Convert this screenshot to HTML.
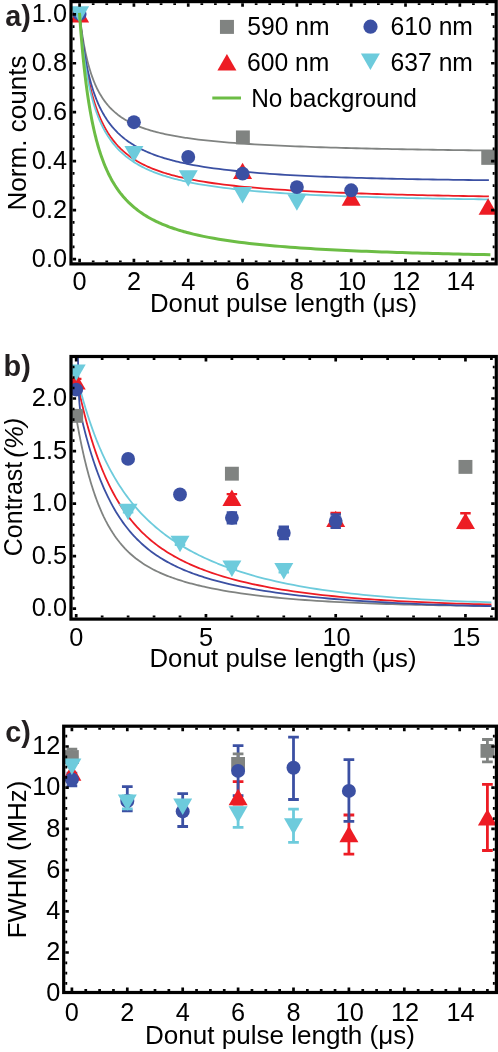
<!DOCTYPE html>
<html><head><meta charset="utf-8"><title>figure</title>
<style>html,body{margin:0;padding:0;background:#fff}svg{display:block;will-change:transform}text{font-family:"Liberation Sans",sans-serif}</style>
</head><body>
<svg width="498" height="1052" viewBox="0 0 498 1052" font-family="'Liberation Sans', sans-serif">
<rect width="498" height="1052" fill="#fff"/>
<defs>
<clipPath id="ca"><rect x="71" y="1.6" width="425.2" height="262.3"/></clipPath>
<clipPath id="cb"><rect x="71" y="356.5" width="425.3" height="262.6"/></clipPath>
<clipPath id="cc"><rect x="63.7" y="726.2" width="432.7" height="266.3"/></clipPath>
</defs>
<g clip-path="url(#ca)">
<path d="M79.6 14.3 L80.06 18.23 L80.52 21.96 L80.98 25.49 L81.44 28.84 L81.9 32.03 L82.36 35.07 L82.82 37.96 L83.28 40.72 L83.74 43.36 L84.2 45.88 L84.66 48.29 L85.12 50.6 L85.58 52.82 L86.04 54.94 L86.51 56.99 L86.97 58.95 L87.43 60.84 L87.89 62.65 L88.35 64.4 L88.81 66.09 L89.27 67.71 L89.73 69.28 L90.19 70.8 L90.65 72.26 L91.11 73.68 L91.57 75.05 L92.03 76.37 L92.49 77.66 L92.95 78.9 L93.41 80.11 L93.87 81.27 L94.33 82.41 L94.79 83.51 L95.25 84.58 L95.71 85.61 L96.17 86.62 L96.63 87.6 L97.09 88.56 L97.55 89.48 L98.01 90.39 L98.47 91.27 L98.93 92.12 L99.39 92.95 L99.85 93.77 L100.32 94.56 L100.78 95.33 L101.24 96.09 L101.7 96.82 L102.16 97.54 L102.62 98.24 L103.08 98.92 L103.54 99.59 L104 100.25 L104.46 100.88 L104.92 101.51 L105.38 102.12 L105.84 102.72 L106.3 103.3 L106.76 103.87 L108.14 105.51 L109.52 107.06 L110.9 108.51 L112.28 109.88 L113.67 111.18 L115.05 112.4 L116.43 113.56 L117.81 114.66 L119.19 115.7 L120.57 116.7 L121.95 117.64 L123.33 118.54 L124.71 119.4 L126.09 120.22 L127.48 121.01 L128.86 121.76 L130.24 122.48 L131.62 123.17 L133 123.84 L134.38 124.47 L135.76 125.09 L137.14 125.67 L138.52 126.24 L139.9 126.79 L141.29 127.31 L142.67 127.82 L144.05 128.31 L145.43 128.78 L146.81 129.24 L148.19 129.68 L149.57 130.11 L150.95 130.52 L152.33 130.92 L153.71 131.31 L155.1 131.69 L156.48 132.05 L157.86 132.41 L159.24 132.75 L160.62 133.09 L162 133.41 L163.38 133.72 L164.76 134.03 L166.14 134.33 L167.52 134.62 L168.91 134.9 L170.29 135.18 L171.67 135.44 L173.05 135.7 L174.43 135.96 L175.81 136.21 L177.19 136.45 L178.57 136.68 L179.95 136.91 L181.33 137.14 L182.72 137.36 L184.1 137.57 L185.48 137.78 L186.86 137.98 L188.24 138.18 L193.34 138.88 L198.43 139.53 L203.53 140.12 L208.62 140.68 L213.72 141.2 L218.82 141.68 L223.91 142.13 L229.01 142.55 L234.1 142.94 L239.2 143.32 L244.3 143.67 L249.39 144 L254.49 144.31 L259.58 144.61 L264.68 144.89 L269.78 145.16 L274.87 145.41 L279.97 145.66 L285.06 145.89 L290.16 146.11 L295.26 146.32 L300.35 146.52 L305.45 146.71 L310.54 146.89 L315.64 147.07 L320.73 147.24 L325.83 147.4 L330.93 147.56 L336.02 147.71 L341.12 147.85 L346.21 147.99 L351.31 148.12 L356.41 148.25 L361.5 148.38 L366.6 148.5 L371.69 148.61 L376.79 148.73 L381.89 148.84 L386.98 148.94 L392.08 149.04 L397.17 149.14 L402.27 149.24 L407.37 149.33 L412.46 149.42 L417.56 149.51 L422.65 149.59 L427.75 149.68 L432.85 149.76 L437.94 149.83 L443.04 149.91 L448.13 149.98 L453.23 150.05 L458.33 150.12 L463.42 150.19 L468.52 150.26 L473.61 150.32 L478.71 150.39 L483.81 150.45 L488.9 150.51 L496.51 150.59" stroke="#808381" stroke-width="1.8" fill="none" stroke-linejoin="round" stroke-linecap="butt"/>
<path d="M79.6 14.3 L80.06 19.2 L80.52 23.86 L80.98 28.3 L81.44 32.52 L81.9 36.55 L82.36 40.4 L82.82 44.07 L83.28 47.59 L83.74 50.96 L84.2 54.19 L84.66 57.29 L85.12 60.26 L85.58 63.12 L86.04 65.87 L86.51 68.52 L86.97 71.06 L87.43 73.52 L87.89 75.89 L88.35 78.17 L88.81 80.38 L89.27 82.51 L89.73 84.57 L90.19 86.56 L90.65 88.49 L91.11 90.36 L91.57 92.17 L92.03 93.92 L92.49 95.62 L92.95 97.27 L93.41 98.87 L93.87 100.42 L94.33 101.93 L94.79 103.4 L95.25 104.83 L95.71 106.22 L96.17 107.56 L96.63 108.88 L97.09 110.16 L97.55 111.4 L98.01 112.62 L98.47 113.8 L98.93 114.95 L99.39 116.08 L99.85 117.17 L100.32 118.24 L100.78 119.29 L101.24 120.31 L101.7 121.31 L102.16 122.28 L102.62 123.23 L103.08 124.16 L103.54 125.07 L104 125.96 L104.46 126.83 L104.92 127.68 L105.38 128.51 L105.84 129.33 L106.3 130.12 L106.76 130.9 L108.14 133.15 L109.52 135.27 L110.9 137.27 L112.28 139.15 L113.67 140.94 L115.05 142.63 L116.43 144.23 L117.81 145.76 L119.19 147.21 L120.57 148.59 L121.95 149.9 L123.33 151.16 L124.71 152.36 L126.09 153.51 L127.48 154.6 L128.86 155.66 L130.24 156.67 L131.62 157.64 L133 158.57 L134.38 159.46 L135.76 160.32 L137.14 161.15 L138.52 161.95 L139.9 162.72 L141.29 163.46 L142.67 164.18 L144.05 164.87 L145.43 165.54 L146.81 166.19 L148.19 166.81 L149.57 167.42 L150.95 168.01 L152.33 168.58 L153.71 169.13 L155.1 169.66 L156.48 170.18 L157.86 170.68 L159.24 171.17 L160.62 171.65 L162 172.11 L163.38 172.56 L164.76 172.99 L166.14 173.42 L167.52 173.83 L168.91 174.23 L170.29 174.63 L171.67 175.01 L173.05 175.38 L174.43 175.74 L175.81 176.1 L177.19 176.44 L178.57 176.78 L179.95 177.11 L181.33 177.43 L182.72 177.74 L184.1 178.05 L185.48 178.35 L186.86 178.64 L188.24 178.93 L193.34 179.93 L198.43 180.85 L203.53 181.71 L208.62 182.5 L213.72 183.24 L218.82 183.94 L223.91 184.58 L229.01 185.19 L234.1 185.76 L239.2 186.29 L244.3 186.79 L249.39 187.27 L254.49 187.72 L259.58 188.14 L264.68 188.55 L269.78 188.93 L274.87 189.29 L279.97 189.64 L285.06 189.97 L290.16 190.28 L295.26 190.58 L300.35 190.87 L305.45 191.14 L310.54 191.4 L315.64 191.65 L320.73 191.89 L325.83 192.12 L330.93 192.34 L336.02 192.55 L341.12 192.76 L346.21 192.95 L351.31 193.14 L356.41 193.32 L361.5 193.5 L366.6 193.67 L371.69 193.83 L376.79 193.99 L381.89 194.14 L386.98 194.29 L392.08 194.43 L397.17 194.56 L402.27 194.7 L407.37 194.82 L412.46 194.95 L417.56 195.07 L422.65 195.19 L427.75 195.3 L432.85 195.41 L437.94 195.52 L443.04 195.62 L448.13 195.72 L453.23 195.82 L458.33 195.91 L463.42 196 L468.52 196.09 L473.61 196.18 L478.71 196.26 L483.81 196.35 L488.9 196.43" stroke="#ed1c24" stroke-width="1.8" fill="none" stroke-linejoin="round" stroke-linecap="butt"/>
<path d="M79.6 14.3 L80.06 18.97 L80.52 23.37 L80.98 27.53 L81.44 31.47 L81.9 35.21 L82.36 38.76 L82.82 42.14 L83.28 45.36 L83.74 48.43 L84.2 51.36 L84.66 54.16 L85.12 56.85 L85.58 59.42 L86.04 61.88 L86.51 64.25 L86.97 66.53 L87.43 68.72 L87.89 70.83 L88.35 72.86 L88.81 74.82 L89.27 76.71 L89.73 78.53 L90.19 80.29 L90.65 82 L91.11 83.65 L91.57 85.25 L92.03 86.79 L92.49 88.29 L92.95 89.75 L93.41 91.16 L93.87 92.53 L94.33 93.86 L94.79 95.15 L95.25 96.41 L95.71 97.63 L96.17 98.82 L96.63 99.98 L97.09 101.1 L97.55 102.2 L98.01 103.27 L98.47 104.31 L98.93 105.33 L99.39 106.32 L99.85 107.29 L100.32 108.24 L100.78 109.16 L101.24 110.06 L101.7 110.95 L102.16 111.81 L102.62 112.65 L103.08 113.47 L103.54 114.28 L104 115.07 L104.46 115.84 L104.92 116.6 L105.38 117.34 L105.84 118.06 L106.3 118.77 L106.76 119.47 L108.14 121.47 L109.52 123.37 L110.9 125.16 L112.28 126.85 L113.67 128.46 L115.05 129.98 L116.43 131.43 L117.81 132.82 L119.19 134.13 L120.57 135.39 L121.95 136.59 L123.33 137.74 L124.71 138.85 L126.09 139.9 L127.48 140.92 L128.86 141.89 L130.24 142.83 L131.62 143.73 L133 144.59 L134.38 145.43 L135.76 146.23 L137.14 147.01 L138.52 147.76 L139.9 148.48 L141.29 149.18 L142.67 149.86 L144.05 150.51 L145.43 151.15 L146.81 151.76 L148.19 152.35 L149.57 152.93 L150.95 153.49 L152.33 154.03 L153.71 154.56 L155.1 155.07 L156.48 155.57 L157.86 156.05 L159.24 156.52 L160.62 156.98 L162 157.43 L163.38 157.86 L164.76 158.28 L166.14 158.69 L167.52 159.09 L168.91 159.48 L170.29 159.86 L171.67 160.23 L173.05 160.6 L174.43 160.95 L175.81 161.29 L177.19 161.63 L178.57 161.96 L179.95 162.28 L181.33 162.59 L182.72 162.9 L184.1 163.2 L185.48 163.49 L186.86 163.78 L188.24 164.06 L193.34 165.04 L198.43 165.95 L203.53 166.79 L208.62 167.57 L213.72 168.3 L218.82 168.97 L223.91 169.61 L229.01 170.2 L234.1 170.75 L239.2 171.27 L244.3 171.76 L249.39 172.22 L254.49 172.66 L259.58 173.07 L264.68 173.45 L269.78 173.82 L274.87 174.16 L279.97 174.49 L285.06 174.8 L290.16 175.09 L295.26 175.37 L300.35 175.63 L305.45 175.88 L310.54 176.12 L315.64 176.35 L320.73 176.56 L325.83 176.77 L330.93 176.97 L336.02 177.15 L341.12 177.33 L346.21 177.5 L351.31 177.66 L356.41 177.82 L361.5 177.97 L366.6 178.11 L371.69 178.24 L376.79 178.37 L381.89 178.5 L386.98 178.62 L392.08 178.73 L397.17 178.84 L402.27 178.95 L407.37 179.05 L412.46 179.14 L417.56 179.23 L422.65 179.32 L427.75 179.41 L432.85 179.49 L437.94 179.57 L443.04 179.64 L448.13 179.71 L453.23 179.78 L458.33 179.85 L463.42 179.91 L468.52 179.98 L473.61 180.03 L478.71 180.09 L483.81 180.15 L488.9 180.2" stroke="#3b50a3" stroke-width="1.8" fill="none" stroke-linejoin="round" stroke-linecap="butt"/>
<path d="M79.6 14.3 L80.06 19.8 L80.52 24.97 L80.98 29.85 L81.44 34.46 L81.9 38.82 L82.36 42.96 L82.82 46.88 L83.28 50.62 L83.74 54.17 L84.2 57.56 L84.66 60.8 L85.12 63.89 L85.58 66.85 L86.04 69.68 L86.51 72.4 L86.97 75 L87.43 77.5 L87.89 79.91 L88.35 82.23 L88.81 84.45 L89.27 86.6 L89.73 88.67 L90.19 90.67 L90.65 92.6 L91.11 94.47 L91.57 96.27 L92.03 98.02 L92.49 99.71 L92.95 101.34 L93.41 102.93 L93.87 104.47 L94.33 105.96 L94.79 107.41 L95.25 108.81 L95.71 110.18 L96.17 111.51 L96.63 112.8 L97.09 114.05 L97.55 115.28 L98.01 116.47 L98.47 117.63 L98.93 118.76 L99.39 119.86 L99.85 120.93 L100.32 121.98 L100.78 123 L101.24 124 L101.7 124.97 L102.16 125.92 L102.62 126.85 L103.08 127.76 L103.54 128.65 L104 129.51 L104.46 130.36 L104.92 131.19 L105.38 132 L105.84 132.8 L106.3 133.58 L106.76 134.34 L108.14 136.54 L109.52 138.6 L110.9 140.55 L112.28 142.4 L113.67 144.14 L115.05 145.79 L116.43 147.37 L117.81 148.86 L119.19 150.28 L120.57 151.64 L121.95 152.93 L123.33 154.17 L124.71 155.35 L126.09 156.48 L127.48 157.56 L128.86 158.61 L130.24 159.6 L131.62 160.57 L133 161.49 L134.38 162.38 L135.76 163.23 L137.14 164.06 L138.52 164.85 L139.9 165.62 L141.29 166.36 L142.67 167.08 L144.05 167.77 L145.43 168.45 L146.81 169.09 L148.19 169.72 L149.57 170.33 L150.95 170.92 L152.33 171.5 L153.71 172.05 L155.1 172.59 L156.48 173.11 L157.86 173.62 L159.24 174.12 L160.62 174.6 L162 175.07 L163.38 175.52 L164.76 175.97 L166.14 176.4 L167.52 176.82 L168.91 177.23 L170.29 177.63 L171.67 178.02 L173.05 178.4 L174.43 178.77 L175.81 179.13 L177.19 179.48 L178.57 179.83 L179.95 180.16 L181.33 180.49 L182.72 180.81 L184.1 181.13 L185.48 181.43 L186.86 181.73 L188.24 182.03 L193.34 183.05 L198.43 184.01 L203.53 184.89 L208.62 185.71 L213.72 186.47 L218.82 187.18 L223.91 187.85 L229.01 188.47 L234.1 189.06 L239.2 189.61 L244.3 190.12 L249.39 190.61 L254.49 191.07 L259.58 191.5 L264.68 191.91 L269.78 192.3 L274.87 192.67 L279.97 193.02 L285.06 193.35 L290.16 193.67 L295.26 193.97 L300.35 194.25 L305.45 194.52 L310.54 194.78 L315.64 195.03 L320.73 195.27 L325.83 195.49 L330.93 195.71 L336.02 195.91 L341.12 196.11 L346.21 196.3 L351.31 196.48 L356.41 196.65 L361.5 196.82 L366.6 196.97 L371.69 197.13 L376.79 197.27 L381.89 197.41 L386.98 197.55 L392.08 197.68 L397.17 197.8 L402.27 197.92 L407.37 198.04 L412.46 198.15 L417.56 198.26 L422.65 198.36 L427.75 198.46 L432.85 198.55 L437.94 198.65 L443.04 198.73 L448.13 198.82 L453.23 198.9 L458.33 198.98 L463.42 199.06 L468.52 199.13 L473.61 199.2 L478.71 199.27 L483.81 199.34 L488.9 199.4" stroke="#6dcbdc" stroke-width="1.8" fill="none" stroke-linejoin="round" stroke-linecap="butt"/>
<rect x="235.94" y="130.45" width="13.9" height="13.9" fill="#808381"/>
<rect x="481.27" y="150.95" width="13.9" height="13.9" fill="#808381"/>
<path d="M70.1 22.4 L89.1 22.4 L79.6 5.95 Z" fill="#ed1c24"/>
<path d="M233.06 179.1 L252.06 179.1 L242.56 162.65 Z" fill="#ed1c24"/>
<path d="M341.7 205.7 L360.7 205.7 L351.2 189.25 Z" fill="#ed1c24"/>
<path d="M478.59 214.8 L497.59 214.8 L488.09 198.35 Z" fill="#ed1c24"/>
<circle cx="79.6" cy="13.9" r="6.95" fill="#3b50a3"/>
<circle cx="133.92" cy="122.2" r="6.95" fill="#3b50a3"/>
<circle cx="188.24" cy="157" r="6.95" fill="#3b50a3"/>
<circle cx="242.56" cy="173.6" r="6.95" fill="#3b50a3"/>
<circle cx="296.88" cy="187.1" r="6.95" fill="#3b50a3"/>
<circle cx="351.2" cy="190.3" r="6.95" fill="#3b50a3"/>
<path d="M70.1 6.2 L89.1 6.2 L79.6 22.65 Z" fill="#6dcbdc"/>
<path d="M124.42 146 L143.42 146 L133.92 162.45 Z" fill="#6dcbdc"/>
<path d="M178.74 170.2 L197.74 170.2 L188.24 186.65 Z" fill="#6dcbdc"/>
<path d="M233.06 187.1 L252.06 187.1 L242.56 203.55 Z" fill="#6dcbdc"/>
<path d="M287.38 194.2 L306.38 194.2 L296.88 210.65 Z" fill="#6dcbdc"/>
<path d="M79.6 14.3 L80.06 20.87 L80.52 27.12 L80.98 33.06 L81.44 38.72 L81.9 44.11 L82.36 49.27 L82.82 54.19 L83.28 58.9 L83.74 63.42 L84.2 67.74 L84.66 71.89 L85.12 75.87 L85.58 79.69 L86.04 83.37 L86.51 86.9 L86.97 90.31 L87.43 93.59 L87.89 96.76 L88.35 99.81 L88.81 102.76 L89.27 105.61 L89.73 108.36 L90.19 111.02 L90.65 113.59 L91.11 116.08 L91.57 118.5 L92.03 120.84 L92.49 123.1 L92.95 125.3 L93.41 127.43 L93.87 129.51 L94.33 131.52 L94.79 133.47 L95.25 135.37 L95.71 137.22 L96.17 139.01 L96.63 140.76 L97.09 142.46 L97.55 144.12 L98.01 145.73 L98.47 147.31 L98.93 148.84 L99.39 150.33 L99.85 151.79 L100.32 153.21 L100.78 154.6 L101.24 155.95 L101.7 157.28 L102.16 158.57 L102.62 159.83 L103.08 161.06 L103.54 162.27 L104 163.45 L104.46 164.6 L104.92 165.73 L105.38 166.83 L105.84 167.91 L106.3 168.96 L106.76 170 L108.14 172.97 L109.52 175.77 L110.9 178.41 L112.28 180.9 L113.67 183.26 L115.05 185.49 L116.43 187.6 L117.81 189.61 L119.19 191.51 L120.57 193.33 L121.95 195.06 L123.33 196.71 L124.71 198.28 L126.09 199.79 L127.48 201.23 L128.86 202.61 L130.24 203.93 L131.62 205.2 L133 206.42 L134.38 207.59 L135.76 208.71 L137.14 209.8 L138.52 210.84 L139.9 211.84 L141.29 212.81 L142.67 213.74 L144.05 214.65 L145.43 215.52 L146.81 216.36 L148.19 217.17 L149.57 217.96 L150.95 218.72 L152.33 219.46 L153.71 220.17 L155.1 220.87 L156.48 221.54 L157.86 222.19 L159.24 222.82 L160.62 223.44 L162 224.04 L163.38 224.62 L164.76 225.18 L166.14 225.73 L167.52 226.26 L168.91 226.78 L170.29 227.29 L171.67 227.78 L173.05 228.26 L174.43 228.72 L175.81 229.18 L177.19 229.62 L178.57 230.06 L179.95 230.48 L181.33 230.89 L182.72 231.29 L184.1 231.69 L185.48 232.07 L186.86 232.45 L188.24 232.81 L193.34 234.09 L198.43 235.28 L203.53 236.37 L208.62 237.38 L213.72 238.33 L218.82 239.2 L223.91 240.02 L229.01 240.79 L234.1 241.51 L239.2 242.18 L244.3 242.82 L249.39 243.42 L254.49 243.98 L259.58 244.52 L264.68 245.02 L269.78 245.5 L274.87 245.95 L279.97 246.38 L285.06 246.79 L290.16 247.18 L295.26 247.56 L300.35 247.91 L305.45 248.25 L310.54 248.57 L315.64 248.88 L320.73 249.18 L325.83 249.46 L330.93 249.73 L336.02 249.99 L341.12 250.24 L346.21 250.48 L351.31 250.71 L356.41 250.94 L361.5 251.15 L366.6 251.35 L371.69 251.55 L376.79 251.74 L381.89 251.93 L386.98 252.11 L392.08 252.28 L397.17 252.44 L402.27 252.6 L407.37 252.76 L412.46 252.91 L417.56 253.05 L422.65 253.19 L427.75 253.33 L432.85 253.46 L437.94 253.59 L443.04 253.71 L448.13 253.83 L453.23 253.94 L458.33 254.06 L463.42 254.17 L468.52 254.27 L473.61 254.38 L478.71 254.48 L483.81 254.57 L488.9 254.67" stroke="#6cbd45" stroke-width="3" fill="none" stroke-linejoin="round" stroke-linecap="square"/>
</g>
<rect x="71" y="1.6" width="425.2" height="262.3" fill="none" stroke="#000" stroke-width="3.2"/>
<path d="M79.6 262.3 v-1.9 M79.6 3.2 v1.9 M93.18 262.3 v-1.9 M93.18 3.2 v1.9 M106.76 262.3 v-1.9 M106.76 3.2 v1.9 M120.34 262.3 v-1.9 M120.34 3.2 v1.9 M133.92 262.3 v-1.9 M133.92 3.2 v1.9 M147.5 262.3 v-1.9 M147.5 3.2 v1.9 M161.08 262.3 v-1.9 M161.08 3.2 v1.9 M174.66 262.3 v-1.9 M174.66 3.2 v1.9 M188.24 262.3 v-1.9 M188.24 3.2 v1.9 M201.82 262.3 v-1.9 M201.82 3.2 v1.9 M215.4 262.3 v-1.9 M215.4 3.2 v1.9 M228.98 262.3 v-1.9 M228.98 3.2 v1.9 M242.56 262.3 v-1.9 M242.56 3.2 v1.9 M256.14 262.3 v-1.9 M256.14 3.2 v1.9 M269.72 262.3 v-1.9 M269.72 3.2 v1.9 M283.3 262.3 v-1.9 M283.3 3.2 v1.9 M296.88 262.3 v-1.9 M296.88 3.2 v1.9 M310.46 262.3 v-1.9 M310.46 3.2 v1.9 M324.04 262.3 v-1.9 M324.04 3.2 v1.9 M337.62 262.3 v-1.9 M337.62 3.2 v1.9 M351.2 262.3 v-1.9 M351.2 3.2 v1.9 M364.78 262.3 v-1.9 M364.78 3.2 v1.9 M378.36 262.3 v-1.9 M378.36 3.2 v1.9 M391.94 262.3 v-1.9 M391.94 3.2 v1.9 M405.52 262.3 v-1.9 M405.52 3.2 v1.9 M419.1 262.3 v-1.9 M419.1 3.2 v1.9 M432.68 262.3 v-1.9 M432.68 3.2 v1.9 M446.26 262.3 v-1.9 M446.26 3.2 v1.9 M459.84 262.3 v-1.9 M459.84 3.2 v1.9 M473.42 262.3 v-1.9 M473.42 3.2 v1.9 M487 262.3 v-1.9 M487 3.2 v1.9 M79.6 262.3 v-3.5 M79.6 3.2 v3.5 M133.92 262.3 v-3.5 M133.92 3.2 v3.5 M188.24 262.3 v-3.5 M188.24 3.2 v3.5 M242.56 262.3 v-3.5 M242.56 3.2 v3.5 M296.88 262.3 v-3.5 M296.88 3.2 v3.5 M351.2 262.3 v-3.5 M351.2 3.2 v3.5 M405.52 262.3 v-3.5 M405.52 3.2 v3.5 M459.84 262.3 v-3.5 M459.84 3.2 v3.5 M72.6 259.1 h1.9 M494.6 259.1 h-1.9 M72.6 246.86 h1.9 M494.6 246.86 h-1.9 M72.6 234.62 h1.9 M494.6 234.62 h-1.9 M72.6 222.38 h1.9 M494.6 222.38 h-1.9 M72.6 210.14 h1.9 M494.6 210.14 h-1.9 M72.6 197.9 h1.9 M494.6 197.9 h-1.9 M72.6 185.66 h1.9 M494.6 185.66 h-1.9 M72.6 173.42 h1.9 M494.6 173.42 h-1.9 M72.6 161.18 h1.9 M494.6 161.18 h-1.9 M72.6 148.94 h1.9 M494.6 148.94 h-1.9 M72.6 136.7 h1.9 M494.6 136.7 h-1.9 M72.6 124.46 h1.9 M494.6 124.46 h-1.9 M72.6 112.22 h1.9 M494.6 112.22 h-1.9 M72.6 99.98 h1.9 M494.6 99.98 h-1.9 M72.6 87.74 h1.9 M494.6 87.74 h-1.9 M72.6 75.5 h1.9 M494.6 75.5 h-1.9 M72.6 63.26 h1.9 M494.6 63.26 h-1.9 M72.6 51.02 h1.9 M494.6 51.02 h-1.9 M72.6 38.78 h1.9 M494.6 38.78 h-1.9 M72.6 26.54 h1.9 M494.6 26.54 h-1.9 M72.6 14.3 h1.9 M494.6 14.3 h-1.9 M72.6 259.1 h3.5 M494.6 259.1 h-3.5 M72.6 210.14 h3.5 M494.6 210.14 h-3.5 M72.6 161.18 h3.5 M494.6 161.18 h-3.5 M72.6 112.22 h3.5 M494.6 112.22 h-3.5 M72.6 63.26 h3.5 M494.6 63.26 h-3.5 M72.6 14.3 h3.5 M494.6 14.3 h-3.5" stroke="#000" stroke-width="2.7" fill="none"/>
<text transform="translate(67 267) scale(0.97 1)" text-anchor="end" font-size="26.1" font-weight="normal" fill="#000">0.0</text>
<text transform="translate(67 218.04) scale(0.97 1)" text-anchor="end" font-size="26.1" font-weight="normal" fill="#000">0.2</text>
<text transform="translate(67 169.08) scale(0.97 1)" text-anchor="end" font-size="26.1" font-weight="normal" fill="#000">0.4</text>
<text transform="translate(67 120.12) scale(0.97 1)" text-anchor="end" font-size="26.1" font-weight="normal" fill="#000">0.6</text>
<text transform="translate(67 71.16) scale(0.97 1)" text-anchor="end" font-size="26.1" font-weight="normal" fill="#000">0.8</text>
<text transform="translate(67 22.2) scale(0.97 1)" text-anchor="end" font-size="26.1" font-weight="normal" fill="#000">1.0</text>
<text transform="translate(79.6 290.3) scale(0.97 1)" text-anchor="middle" font-size="26.1" font-weight="normal" fill="#000">0</text>
<text transform="translate(133.92 290.3) scale(0.97 1)" text-anchor="middle" font-size="26.1" font-weight="normal" fill="#000">2</text>
<text transform="translate(188.24 290.3) scale(0.97 1)" text-anchor="middle" font-size="26.1" font-weight="normal" fill="#000">4</text>
<text transform="translate(242.56 290.3) scale(0.97 1)" text-anchor="middle" font-size="26.1" font-weight="normal" fill="#000">6</text>
<text transform="translate(296.88 290.3) scale(0.97 1)" text-anchor="middle" font-size="26.1" font-weight="normal" fill="#000">8</text>
<text transform="translate(352 290.3) scale(0.97 1)" text-anchor="middle" font-size="26.1" font-weight="normal" fill="#000">10</text>
<text transform="translate(406.32 290.3) scale(0.97 1)" text-anchor="middle" font-size="26.1" font-weight="normal" fill="#000">12</text>
<text transform="translate(460.64 290.3) scale(0.97 1)" text-anchor="middle" font-size="26.1" font-weight="normal" fill="#000">14</text>
<text transform="translate(283.5 311.5) scale(0.97 1)" text-anchor="middle" font-size="26.6" font-weight="normal" fill="#000">Donut pulse length (μs)</text>
<text transform="translate(25.6 133) rotate(-90) scale(0.98 1)" text-anchor="middle" font-size="26.6" font-weight="normal" fill="#000">Norm. counts</text>
<text transform="translate(5.3 26.1) scale(1 1)" text-anchor="start" font-size="28.8" font-weight="bold" fill="#231f20">a)</text>
<rect x="219.95" y="19.9" width="14" height="14" fill="#808381"/>
<text transform="translate(247.2 35.1) scale(0.95 1)" text-anchor="start" font-size="26" font-weight="normal" fill="#000">590 nm</text>
<path d="M217.4 70.6 L236.4 70.6 L226.9 54.1 Z" fill="#ed1c24"/>
<text transform="translate(247 71.2) scale(0.95 1)" text-anchor="start" font-size="26" font-weight="normal" fill="#000">600 nm</text>
<circle cx="370.5" cy="26.7" r="7.1" fill="#3b50a3"/>
<text transform="translate(390.6 35.1) scale(0.95 1)" text-anchor="start" font-size="26" font-weight="normal" fill="#000">610 nm</text>
<path d="M360.9 53.6 L379.9 53.6 L370.4 70.1 Z" fill="#6dcbdc"/>
<text transform="translate(390.6 71.2) scale(0.95 1)" text-anchor="start" font-size="26" font-weight="normal" fill="#000">637 nm</text>
<path d="M212.3 98.0 H241.0" stroke="#6cbd45" stroke-width="3.0"/>
<text transform="translate(251.2 107.1) scale(0.94 1)" text-anchor="start" font-size="26" font-weight="normal" fill="#000">No background</text>
<g clip-path="url(#cb)">
<path d="M76.2 417.24 L76.73 420.31 L77.26 423.32 L77.79 426.26 L78.32 429.15 L78.85 431.97 L79.38 434.73 L79.91 437.44 L80.44 440.1 L80.97 442.69 L81.5 445.24 L82.03 447.73 L82.56 450.17 L83.08 452.56 L83.61 454.91 L84.14 457.2 L84.67 459.45 L85.2 461.66 L85.73 463.82 L86.26 465.93 L86.79 468 L87.32 470.04 L87.85 472.03 L88.38 473.98 L88.91 475.89 L89.44 477.77 L89.97 479.6 L90.5 481.41 L91.03 483.17 L91.56 484.9 L92.09 486.6 L92.62 488.26 L93.15 489.9 L93.68 491.5 L94.21 493.06 L94.74 494.6 L95.27 496.11 L95.79 497.59 L96.32 499.04 L96.85 500.47 L97.38 501.86 L97.91 503.23 L98.44 504.58 L98.97 505.9 L99.5 507.19 L100.03 508.46 L100.56 509.71 L101.09 510.93 L101.62 512.13 L102.15 513.31 L103.91 517.07 L105.67 520.61 L107.43 523.94 L109.19 527.08 L110.95 530.04 L112.71 532.83 L114.47 535.46 L116.22 537.95 L117.98 540.31 L119.74 542.54 L121.5 544.66 L123.26 546.66 L125.02 548.56 L126.78 550.37 L128.54 552.09 L130.3 553.73 L132.06 555.28 L133.82 556.77 L135.58 558.19 L137.34 559.54 L139.1 560.84 L140.86 562.07 L142.61 563.26 L144.37 564.4 L146.13 565.49 L147.89 566.53 L149.65 567.54 L151.41 568.5 L153.17 569.43 L154.93 570.33 L156.69 571.19 L158.45 572.03 L160.21 572.83 L161.97 573.61 L163.73 574.36 L165.49 575.09 L167.24 575.79 L169 576.47 L170.76 577.13 L172.52 577.77 L174.28 578.39 L176.04 578.99 L177.8 579.58 L179.56 580.15 L181.32 580.7 L183.08 581.24 L184.84 581.77 L186.6 582.28 L188.36 582.77 L190.12 583.26 L191.88 583.73 L193.63 584.19 L195.39 584.64 L197.15 585.08 L198.91 585.5 L200.67 585.92 L202.43 586.33 L204.19 586.73 L205.95 587.12 L211.78 588.35 L217.6 589.49 L223.43 590.55 L229.25 591.54 L235.08 592.47 L240.9 593.34 L246.73 594.15 L252.55 594.91 L258.38 595.63 L264.21 596.3 L270.03 596.93 L275.86 597.52 L281.68 598.08 L287.51 598.6 L293.33 599.09 L299.16 599.56 L304.98 599.99 L310.81 600.4 L316.63 600.79 L322.46 601.15 L328.29 601.49 L334.11 601.81 L339.94 602.11 L345.76 602.4 L351.59 602.67 L357.41 602.92 L363.24 603.16 L369.06 603.38 L374.89 603.59 L380.72 603.79 L386.54 603.98 L392.37 604.16 L398.19 604.32 L404.02 604.48 L409.84 604.63 L415.67 604.77 L421.49 604.9 L427.32 605.02 L433.14 605.14 L438.97 605.25 L444.8 605.36 L450.62 605.46 L456.45 605.55 L462.27 605.64 L468.1 605.72 L473.92 605.8 L479.75 605.87 L485.57 605.94 L491.4 606.01" stroke="#808381" stroke-width="1.8" fill="none" stroke-linejoin="round" stroke-linecap="butt"/>
<path d="M76.2 377.34 L76.73 379.97 L77.26 382.55 L77.79 385.09 L78.32 387.6 L78.85 390.06 L79.38 392.49 L79.91 394.89 L80.44 397.24 L80.97 399.57 L81.5 401.85 L82.03 404.11 L82.56 406.32 L83.08 408.51 L83.61 410.66 L84.14 412.79 L84.67 414.88 L85.2 416.94 L85.73 418.96 L86.26 420.96 L86.79 422.93 L87.32 424.88 L87.85 426.79 L88.38 428.67 L88.91 430.53 L89.44 432.36 L89.97 434.17 L90.5 435.95 L91.03 437.7 L91.56 439.43 L92.09 441.13 L92.62 442.81 L93.15 444.46 L93.68 446.1 L94.21 447.7 L94.74 449.29 L95.27 450.85 L95.79 452.39 L96.32 453.91 L96.85 455.41 L97.38 456.89 L97.91 458.35 L98.44 459.79 L98.97 461.2 L99.5 462.6 L100.03 463.98 L100.56 465.34 L101.09 466.68 L101.62 468 L102.15 469.31 L103.91 473.52 L105.67 477.54 L107.43 481.39 L109.19 485.07 L110.95 488.6 L112.71 491.98 L114.47 495.22 L116.22 498.32 L117.98 501.3 L119.74 504.16 L121.5 506.9 L123.26 509.54 L125.02 512.07 L126.78 514.51 L128.54 516.85 L130.3 519.1 L132.06 521.28 L133.82 523.37 L135.58 525.39 L137.34 527.33 L139.1 529.21 L140.86 531.02 L142.61 532.77 L144.37 534.46 L146.13 536.1 L147.89 537.68 L149.65 539.21 L151.41 540.69 L153.17 542.12 L154.93 543.51 L156.69 544.86 L158.45 546.16 L160.21 547.43 L161.97 548.66 L163.73 549.85 L165.49 551.01 L167.24 552.14 L169 553.24 L170.76 554.3 L172.52 555.34 L174.28 556.35 L176.04 557.33 L177.8 558.29 L179.56 559.22 L181.32 560.13 L183.08 561.01 L184.84 561.87 L186.6 562.72 L188.36 563.54 L190.12 564.34 L191.88 565.12 L193.63 565.89 L195.39 566.64 L197.15 567.37 L198.91 568.08 L200.67 568.78 L202.43 569.46 L204.19 570.13 L205.95 570.78 L211.78 572.84 L217.6 574.77 L223.43 576.57 L229.25 578.25 L235.08 579.83 L240.9 581.31 L246.73 582.7 L252.55 584.02 L258.38 585.25 L264.21 586.41 L270.03 587.51 L275.86 588.55 L281.68 589.53 L287.51 590.45 L293.33 591.32 L299.16 592.15 L304.98 592.93 L310.81 593.67 L316.63 594.37 L322.46 595.03 L328.29 595.66 L334.11 596.26 L339.94 596.82 L345.76 597.35 L351.59 597.86 L357.41 598.33 L363.24 598.79 L369.06 599.22 L374.89 599.62 L380.72 600.01 L386.54 600.38 L392.37 600.72 L398.19 601.05 L404.02 601.36 L409.84 601.66 L415.67 601.94 L421.49 602.21 L427.32 602.46 L433.14 602.7 L438.97 602.92 L444.8 603.14 L450.62 603.34 L456.45 603.54 L462.27 603.72 L468.1 603.9 L473.92 604.06 L479.75 604.22 L485.57 604.37 L491.4 604.51" stroke="#ed1c24" stroke-width="1.8" fill="none" stroke-linejoin="round" stroke-linecap="butt"/>
<path d="M76.2 -131.81 L76.73 148.04 L77.26 281.5 L77.79 345.83 L78.32 377.49 L78.85 393.72 L79.38 402.63 L79.91 408.08 L80.44 411.87 L80.97 414.86 L81.5 417.45 L82.03 419.84 L82.56 422.11 L83.08 424.31 L83.61 426.46 L84.14 428.57 L84.67 430.65 L85.2 432.69 L85.73 434.7 L86.26 436.68 L86.79 438.62 L87.32 440.54 L87.85 442.43 L88.38 444.3 L88.91 446.13 L89.44 447.94 L89.97 449.72 L90.5 451.47 L91.03 453.2 L91.56 454.9 L92.09 456.58 L92.62 458.23 L93.15 459.86 L93.68 461.46 L94.21 463.04 L94.74 464.6 L95.27 466.13 L95.79 467.65 L96.32 469.14 L96.85 470.6 L97.38 472.05 L97.91 473.48 L98.44 474.88 L98.97 476.27 L99.5 477.64 L100.03 478.98 L100.56 480.31 L101.09 481.62 L101.62 482.91 L102.15 484.18 L103.91 488.27 L105.67 492.18 L107.43 495.91 L109.19 499.47 L110.95 502.87 L112.71 506.12 L114.47 509.23 L116.22 512.2 L117.98 515.04 L119.74 517.76 L121.5 520.37 L123.26 522.87 L125.02 525.26 L126.78 527.55 L128.54 529.75 L130.3 531.86 L132.06 533.89 L133.82 535.83 L135.58 537.71 L137.34 539.5 L139.1 541.23 L140.86 542.9 L142.61 544.5 L144.37 546.05 L146.13 547.53 L147.89 548.97 L149.65 550.35 L151.41 551.69 L153.17 552.98 L154.93 554.22 L156.69 555.42 L158.45 556.59 L160.21 557.71 L161.97 558.8 L163.73 559.86 L165.49 560.88 L167.24 561.87 L169 562.83 L170.76 563.76 L172.52 564.66 L174.28 565.54 L176.04 566.39 L177.8 567.22 L179.56 568.02 L181.32 568.8 L183.08 569.56 L184.84 570.3 L186.6 571.02 L188.36 571.72 L190.12 572.4 L191.88 573.07 L193.63 573.72 L195.39 574.35 L197.15 574.97 L198.91 575.57 L200.67 576.16 L202.43 576.73 L204.19 577.29 L205.95 577.84 L211.78 579.56 L217.6 581.17 L223.43 582.66 L229.25 584.05 L235.08 585.36 L240.9 586.58 L246.73 587.73 L252.55 588.81 L258.38 589.83 L264.21 590.79 L270.03 591.7 L275.86 592.56 L281.68 593.37 L287.51 594.13 L293.33 594.86 L299.16 595.55 L304.98 596.2 L310.81 596.82 L316.63 597.4 L322.46 597.96 L328.29 598.49 L334.11 598.99 L339.94 599.46 L345.76 599.92 L351.59 600.35 L357.41 600.75 L363.24 601.14 L369.06 601.51 L374.89 601.86 L380.72 602.19 L386.54 602.51 L392.37 602.81 L398.19 603.09 L404.02 603.36 L409.84 603.62 L415.67 603.87 L421.49 604.1 L427.32 604.32 L433.14 604.53 L438.97 604.73 L444.8 604.92 L450.62 605.1 L456.45 605.28 L462.27 605.44 L468.1 605.6 L473.92 605.74 L479.75 605.88 L485.57 606.02 L491.4 606.15" stroke="#3b50a3" stroke-width="1.8" fill="none" stroke-linejoin="round" stroke-linecap="butt"/>
<path d="M76.2 373.5 L76.73 375.7 L77.26 377.88 L77.79 380.02 L78.32 382.14 L78.85 384.22 L79.38 386.28 L79.91 388.31 L80.44 390.31 L80.97 392.28 L81.5 394.23 L82.03 396.15 L82.56 398.04 L83.08 399.91 L83.61 401.75 L84.14 403.57 L84.67 405.37 L85.2 407.14 L85.73 408.89 L86.26 410.61 L86.79 412.31 L87.32 413.99 L87.85 415.65 L88.38 417.29 L88.91 418.9 L89.44 420.5 L89.97 422.07 L90.5 423.62 L91.03 425.16 L91.56 426.67 L92.09 428.16 L92.62 429.64 L93.15 431.1 L93.68 432.54 L94.21 433.96 L94.74 435.36 L95.27 436.75 L95.79 438.12 L96.32 439.47 L96.85 440.81 L97.38 442.13 L97.91 443.43 L98.44 444.72 L98.97 445.99 L99.5 447.25 L100.03 448.49 L100.56 449.72 L101.09 450.93 L101.62 452.13 L102.15 453.31 L103.91 457.15 L105.67 460.84 L107.43 464.39 L109.19 467.81 L110.95 471.11 L112.71 474.29 L114.47 477.36 L116.22 480.32 L117.98 483.18 L119.74 485.95 L121.5 488.62 L123.26 491.2 L125.02 493.7 L126.78 496.12 L128.54 498.47 L130.3 500.74 L132.06 502.94 L133.82 505.08 L135.58 507.15 L137.34 509.17 L139.1 511.12 L140.86 513.02 L142.61 514.87 L144.37 516.66 L146.13 518.41 L147.89 520.11 L149.65 521.77 L151.41 523.38 L153.17 524.95 L154.93 526.48 L156.69 527.98 L158.45 529.43 L160.21 530.85 L161.97 532.24 L163.73 533.59 L165.49 534.91 L167.24 536.2 L169 537.47 L170.76 538.7 L172.52 539.9 L174.28 541.08 L176.04 542.23 L177.8 543.36 L179.56 544.46 L181.32 545.54 L183.08 546.6 L184.84 547.63 L186.6 548.64 L188.36 549.64 L190.12 550.61 L191.88 551.56 L193.63 552.49 L195.39 553.41 L197.15 554.3 L198.91 555.18 L200.67 556.04 L202.43 556.89 L204.19 557.72 L205.95 558.53 L211.78 561.11 L217.6 563.54 L223.43 565.82 L229.25 567.97 L235.08 570 L240.9 571.91 L246.73 573.71 L252.55 575.41 L258.38 577.02 L264.21 578.54 L270.03 579.98 L275.86 581.33 L281.68 582.62 L287.51 583.83 L293.33 584.98 L299.16 586.06 L304.98 587.09 L310.81 588.07 L316.63 588.99 L322.46 589.86 L328.29 590.69 L334.11 591.47 L339.94 592.21 L345.76 592.92 L351.59 593.58 L357.41 594.21 L363.24 594.81 L369.06 595.37 L374.89 595.91 L380.72 596.42 L386.54 596.9 L392.37 597.36 L398.19 597.79 L404.02 598.2 L409.84 598.59 L415.67 598.96 L421.49 599.31 L427.32 599.64 L433.14 599.95 L438.97 600.25 L444.8 600.54 L450.62 600.8 L456.45 601.06 L462.27 601.3 L468.1 601.53 L473.92 601.75 L479.75 601.96 L485.57 602.15 L491.4 602.34" stroke="#6dcbdc" stroke-width="1.8" fill="none" stroke-linejoin="round" stroke-linecap="butt"/>
<rect x="69.25" y="408.9" width="13.9" height="13.9" fill="#808381"/>
<rect x="224.95" y="466.75" width="13.9" height="13.9" fill="#808381"/>
<rect x="458.5" y="459.95" width="13.9" height="13.9" fill="#808381"/>
<path d="M66.7 389.6 L85.7 389.6 L76.2 373.15 Z" fill="#ed1c24"/>
<path d="M76.2 378.9 V388.6 M70.95 378.9 H81.45 M70.95 388.6 H81.45" stroke="#ed1c24" stroke-width="2.4" fill="none"/>
<path d="M222.4 505.9 L241.4 505.9 L231.9 489.45 Z" fill="#ed1c24"/>
<path d="M231.9 494.1 V504.9 M226.65 494.1 H237.15 M226.65 504.9 H237.15" stroke="#ed1c24" stroke-width="2.4" fill="none"/>
<path d="M326.2 527.1 L345.2 527.1 L335.7 510.65 Z" fill="#ed1c24"/>
<path d="M335.7 513 V526.1 M330.45 513 H340.95 M330.45 526.1 H340.95" stroke="#ed1c24" stroke-width="2.4" fill="none"/>
<path d="M455.95 529.1 L474.95 529.1 L465.45 512.65 Z" fill="#ed1c24"/>
<path d="M465.45 513.3 V528.1 M460.2 513.3 H470.7 M460.2 528.1 H470.7" stroke="#ed1c24" stroke-width="2.4" fill="none"/>
<circle cx="76.2" cy="389.7" r="6.9" fill="#3b50a3"/>
<circle cx="128.1" cy="458.9" r="6.9" fill="#3b50a3"/>
<circle cx="180" cy="494.5" r="6.9" fill="#3b50a3"/>
<path d="M231.9 512.45 V523.25 M226.7 512.45 H237.1 M226.7 523.25 H237.1" stroke="#3b50a3" stroke-width="2.4" fill="none"/>
<circle cx="231.9" cy="517.85" r="6.9" fill="#3b50a3"/>
<path d="M283.8 526.7 V539.1 M278.6 526.7 H289 M278.6 539.1 H289" stroke="#3b50a3" stroke-width="2.4" fill="none"/>
<circle cx="283.8" cy="532.9" r="6.9" fill="#3b50a3"/>
<path d="M335.7 514.5 V527.7 M330.5 514.5 H340.9 M330.5 527.7 H340.9" stroke="#3b50a3" stroke-width="2.4" fill="none"/>
<circle cx="335.7" cy="521.1" r="6.9" fill="#3b50a3"/>
<path d="M128.1 505.5 V512.4 M122.85 505.5 H133.35 M122.85 512.4 H133.35" stroke="#6dcbdc" stroke-width="2.4" fill="none"/>
<path d="M180 537.5 V544.7 M174.75 537.5 H185.25 M174.75 544.7 H185.25" stroke="#6dcbdc" stroke-width="2.4" fill="none"/>
<path d="M231.9 562.5 V569.2 M226.65 562.5 H237.15 M226.65 569.2 H237.15" stroke="#6dcbdc" stroke-width="2.4" fill="none"/>
<path d="M283.8 564.8 V572.4 M278.55 564.8 H289.05 M278.55 572.4 H289.05" stroke="#6dcbdc" stroke-width="2.4" fill="none"/>
<path d="M66.7 364.5 L85.7 364.5 L76.2 380.95 Z" fill="#6dcbdc"/>
<path d="M118.6 503.7 L137.6 503.7 L128.1 520.15 Z" fill="#6dcbdc"/>
<path d="M170.5 535.7 L189.5 535.7 L180 552.15 Z" fill="#6dcbdc"/>
<path d="M222.4 560.6 L241.4 560.6 L231.9 577.05 Z" fill="#6dcbdc"/>
<path d="M274.3 563 L293.3 563 L283.8 579.45 Z" fill="#6dcbdc"/>
</g>
<rect x="71" y="356.5" width="425.3" height="262.6" fill="none" stroke="#000" stroke-width="3.2"/>
<path d="M76.2 617.5 v-1.9 M76.2 358.1 v1.9 M102.15 617.5 v-1.9 M102.15 358.1 v1.9 M128.1 617.5 v-1.9 M128.1 358.1 v1.9 M154.05 617.5 v-1.9 M154.05 358.1 v1.9 M180 617.5 v-1.9 M180 358.1 v1.9 M205.95 617.5 v-1.9 M205.95 358.1 v1.9 M231.9 617.5 v-1.9 M231.9 358.1 v1.9 M257.85 617.5 v-1.9 M257.85 358.1 v1.9 M283.8 617.5 v-1.9 M283.8 358.1 v1.9 M309.75 617.5 v-1.9 M309.75 358.1 v1.9 M335.7 617.5 v-1.9 M335.7 358.1 v1.9 M361.65 617.5 v-1.9 M361.65 358.1 v1.9 M387.6 617.5 v-1.9 M387.6 358.1 v1.9 M413.55 617.5 v-1.9 M413.55 358.1 v1.9 M439.5 617.5 v-1.9 M439.5 358.1 v1.9 M465.45 617.5 v-1.9 M465.45 358.1 v1.9 M491.4 617.5 v-1.9 M491.4 358.1 v1.9 M76.2 617.5 v-3.5 M76.2 358.1 v3.5 M205.95 617.5 v-3.5 M205.95 358.1 v3.5 M335.7 617.5 v-3.5 M335.7 358.1 v3.5 M465.45 617.5 v-3.5 M465.45 358.1 v3.5 M72.6 608.6 h1.9 M494.7 608.6 h-1.9 M72.6 598.1 h1.9 M494.7 598.1 h-1.9 M72.6 587.59 h1.9 M494.7 587.59 h-1.9 M72.6 577.09 h1.9 M494.7 577.09 h-1.9 M72.6 566.58 h1.9 M494.7 566.58 h-1.9 M72.6 556.08 h1.9 M494.7 556.08 h-1.9 M72.6 545.58 h1.9 M494.7 545.58 h-1.9 M72.6 535.07 h1.9 M494.7 535.07 h-1.9 M72.6 524.57 h1.9 M494.7 524.57 h-1.9 M72.6 514.06 h1.9 M494.7 514.06 h-1.9 M72.6 503.56 h1.9 M494.7 503.56 h-1.9 M72.6 493.06 h1.9 M494.7 493.06 h-1.9 M72.6 482.55 h1.9 M494.7 482.55 h-1.9 M72.6 472.05 h1.9 M494.7 472.05 h-1.9 M72.6 461.54 h1.9 M494.7 461.54 h-1.9 M72.6 451.04 h1.9 M494.7 451.04 h-1.9 M72.6 440.54 h1.9 M494.7 440.54 h-1.9 M72.6 430.03 h1.9 M494.7 430.03 h-1.9 M72.6 419.53 h1.9 M494.7 419.53 h-1.9 M72.6 409.02 h1.9 M494.7 409.02 h-1.9 M72.6 398.52 h1.9 M494.7 398.52 h-1.9 M72.6 388.02 h1.9 M494.7 388.02 h-1.9 M72.6 377.51 h1.9 M494.7 377.51 h-1.9 M72.6 367.01 h1.9 M494.7 367.01 h-1.9 M72.6 608.6 h3.5 M494.7 608.6 h-3.5 M72.6 556.08 h3.5 M494.7 556.08 h-3.5 M72.6 503.56 h3.5 M494.7 503.56 h-3.5 M72.6 451.04 h3.5 M494.7 451.04 h-3.5 M72.6 398.52 h3.5 M494.7 398.52 h-3.5" stroke="#000" stroke-width="2.7" fill="none"/>
<text transform="translate(67 616.4) scale(0.97 1)" text-anchor="end" font-size="26.1" font-weight="normal" fill="#000">0.0</text>
<text transform="translate(67 563.88) scale(0.97 1)" text-anchor="end" font-size="26.1" font-weight="normal" fill="#000">0.5</text>
<text transform="translate(67 511.36) scale(0.97 1)" text-anchor="end" font-size="26.1" font-weight="normal" fill="#000">1.0</text>
<text transform="translate(67 458.84) scale(0.97 1)" text-anchor="end" font-size="26.1" font-weight="normal" fill="#000">1.5</text>
<text transform="translate(67 406.32) scale(0.97 1)" text-anchor="end" font-size="26.1" font-weight="normal" fill="#000">2.0</text>
<text transform="translate(76.2 645.9) scale(0.97 1)" text-anchor="middle" font-size="26.1" font-weight="normal" fill="#000">0</text>
<text transform="translate(205.95 645.9) scale(0.97 1)" text-anchor="middle" font-size="26.1" font-weight="normal" fill="#000">5</text>
<text transform="translate(336.5 645.9) scale(0.97 1)" text-anchor="middle" font-size="26.1" font-weight="normal" fill="#000">10</text>
<text transform="translate(466.25 645.9) scale(0.97 1)" text-anchor="middle" font-size="26.1" font-weight="normal" fill="#000">15</text>
<text transform="translate(283 667.2) scale(0.97 1)" text-anchor="middle" font-size="26.6" font-weight="normal" fill="#000">Donut pulse length (μs)</text>
<text transform="translate(21.5 556.2) rotate(-90) scale(0.94 1)" text-anchor="start" font-size="26.6" font-weight="normal" fill="#000">Contrast</text>
<text transform="translate(22.6 457.7) rotate(-90) scale(0.97 1)" text-anchor="start" font-size="26.6" font-weight="normal" fill="#000" font-style="italic">(%)</text>
<text transform="translate(3.6 375.5) scale(1 1)" text-anchor="start" font-size="28.8" font-weight="bold" fill="#231f20">b)</text>
<g clip-path="url(#cc)">
<path d="M238.1 781.6 V804 M232.75 781.6 H243.45 M232.75 804 H243.45" stroke="#ed1c24" stroke-width="2.8" fill="none"/>
<path d="M348.9 815 V854.2 M343.55 815 H354.25 M343.55 854.2 H354.25" stroke="#ed1c24" stroke-width="2.8" fill="none"/>
<path d="M487.4 784.3 V850.5 M482.05 784.3 H492.75 M482.05 850.5 H492.75" stroke="#ed1c24" stroke-width="2.8" fill="none"/>
<path d="M71.9 773.2 V785.9 M66.55 773.2 H77.25 M66.55 785.9 H77.25" stroke="#3b50a3" stroke-width="2.8" fill="none"/>
<path d="M127.3 786.7 V810.8 M121.95 786.7 H132.65 M121.95 810.8 H132.65" stroke="#3b50a3" stroke-width="2.8" fill="none"/>
<path d="M182.7 793.7 V826.5 M177.35 793.7 H188.05 M177.35 826.5 H188.05" stroke="#3b50a3" stroke-width="2.8" fill="none"/>
<path d="M238.1 745.6 V795.7 M232.75 745.6 H243.45 M232.75 795.7 H243.45" stroke="#3b50a3" stroke-width="2.8" fill="none"/>
<path d="M293.5 737.2 V799.5 M288.15 737.2 H298.85 M288.15 799.5 H298.85" stroke="#3b50a3" stroke-width="2.8" fill="none"/>
<path d="M348.9 759.7 V821.4 M343.55 759.7 H354.25 M343.55 821.4 H354.25" stroke="#3b50a3" stroke-width="2.8" fill="none"/>
<path d="M71.9 749.1 V756 M66.55 749.1 H77.25 M66.55 756 H77.25" stroke="#808381" stroke-width="2.8" fill="none"/>
<path d="M238.1 753.8 V760 M232.75 753.8 H243.45 M232.75 760 H243.45" stroke="#808381" stroke-width="2.8" fill="none"/>
<path d="M487.4 739.5 V761.8 M482.05 739.5 H492.75 M482.05 761.8 H492.75" stroke="#808381" stroke-width="2.8" fill="none"/>
<path d="M127.3 796 V808.9 M121.95 796 H132.65 M121.95 808.9 H132.65" stroke="#6dcbdc" stroke-width="2.8" fill="none"/>
<path d="M238.1 808 V827.4 M232.75 808 H243.45 M232.75 827.4 H243.45" stroke="#6dcbdc" stroke-width="2.8" fill="none"/>
<path d="M293.5 809.2 V842.3 M288.15 809.2 H298.85 M288.15 842.3 H298.85" stroke="#6dcbdc" stroke-width="2.8" fill="none"/>
<rect x="65" y="750.1" width="13.8" height="13.8" fill="#808381"/>
<rect x="231.2" y="757" width="13.8" height="13.8" fill="#808381"/>
<rect x="480.5" y="744" width="13.8" height="13.8" fill="#808381"/>
<path d="M62.4 780.7 L81.4 780.7 L71.9 764.25 Z" fill="#ed1c24"/>
<path d="M228.6 805.3 L247.6 805.3 L238.1 788.85 Z" fill="#ed1c24"/>
<path d="M339.4 842.3 L358.4 842.3 L348.9 825.85 Z" fill="#ed1c24"/>
<path d="M477.9 825.4 L496.9 825.4 L487.4 808.95 Z" fill="#ed1c24"/>
<circle cx="71.9" cy="779.4" r="7" fill="#3b50a3"/>
<circle cx="127.3" cy="801.1" r="7" fill="#3b50a3"/>
<circle cx="182.7" cy="811.4" r="7" fill="#3b50a3"/>
<circle cx="238.1" cy="770.9" r="7" fill="#3b50a3"/>
<circle cx="293.5" cy="767.7" r="7" fill="#3b50a3"/>
<circle cx="348.9" cy="790.9" r="7" fill="#3b50a3"/>
<path d="M62.4 758.6 L81.4 758.6 L71.9 775.05 Z" fill="#6dcbdc"/>
<path d="M117.8 794.4 L136.8 794.4 L127.3 810.85 Z" fill="#6dcbdc"/>
<path d="M173.2 798.6 L192.2 798.6 L182.7 815.05 Z" fill="#6dcbdc"/>
<path d="M228.6 806.3 L247.6 806.3 L238.1 822.75 Z" fill="#6dcbdc"/>
<path d="M284 818.2 L303 818.2 L293.5 834.65 Z" fill="#6dcbdc"/>
</g>
<rect x="63.7" y="726.2" width="432.7" height="266.3" fill="none" stroke="#000" stroke-width="3.2"/>
<path d="M71.9 990.9 v-1.9 M71.9 727.8 v1.9 M85.75 990.9 v-1.9 M85.75 727.8 v1.9 M99.6 990.9 v-1.9 M99.6 727.8 v1.9 M113.45 990.9 v-1.9 M113.45 727.8 v1.9 M127.3 990.9 v-1.9 M127.3 727.8 v1.9 M141.15 990.9 v-1.9 M141.15 727.8 v1.9 M155 990.9 v-1.9 M155 727.8 v1.9 M168.85 990.9 v-1.9 M168.85 727.8 v1.9 M182.7 990.9 v-1.9 M182.7 727.8 v1.9 M196.55 990.9 v-1.9 M196.55 727.8 v1.9 M210.4 990.9 v-1.9 M210.4 727.8 v1.9 M224.25 990.9 v-1.9 M224.25 727.8 v1.9 M238.1 990.9 v-1.9 M238.1 727.8 v1.9 M251.95 990.9 v-1.9 M251.95 727.8 v1.9 M265.8 990.9 v-1.9 M265.8 727.8 v1.9 M279.65 990.9 v-1.9 M279.65 727.8 v1.9 M293.5 990.9 v-1.9 M293.5 727.8 v1.9 M307.35 990.9 v-1.9 M307.35 727.8 v1.9 M321.2 990.9 v-1.9 M321.2 727.8 v1.9 M335.05 990.9 v-1.9 M335.05 727.8 v1.9 M348.9 990.9 v-1.9 M348.9 727.8 v1.9 M362.75 990.9 v-1.9 M362.75 727.8 v1.9 M376.6 990.9 v-1.9 M376.6 727.8 v1.9 M390.45 990.9 v-1.9 M390.45 727.8 v1.9 M404.3 990.9 v-1.9 M404.3 727.8 v1.9 M418.15 990.9 v-1.9 M418.15 727.8 v1.9 M432 990.9 v-1.9 M432 727.8 v1.9 M445.85 990.9 v-1.9 M445.85 727.8 v1.9 M459.7 990.9 v-1.9 M459.7 727.8 v1.9 M473.55 990.9 v-1.9 M473.55 727.8 v1.9 M487.4 990.9 v-1.9 M487.4 727.8 v1.9 M71.9 990.9 v-3.5 M71.9 727.8 v3.5 M127.3 990.9 v-3.5 M127.3 727.8 v3.5 M182.7 990.9 v-3.5 M182.7 727.8 v3.5 M238.1 990.9 v-3.5 M238.1 727.8 v3.5 M293.5 990.9 v-3.5 M293.5 727.8 v3.5 M348.9 990.9 v-3.5 M348.9 727.8 v3.5 M404.3 990.9 v-3.5 M404.3 727.8 v3.5 M459.7 990.9 v-3.5 M459.7 727.8 v3.5 M65.3 983.4 h1.9 M494.8 983.4 h-1.9 M65.3 973.1 h1.9 M494.8 973.1 h-1.9 M65.3 962.8 h1.9 M494.8 962.8 h-1.9 M65.3 952.5 h1.9 M494.8 952.5 h-1.9 M65.3 942.2 h1.9 M494.8 942.2 h-1.9 M65.3 931.9 h1.9 M494.8 931.9 h-1.9 M65.3 921.6 h1.9 M494.8 921.6 h-1.9 M65.3 911.3 h1.9 M494.8 911.3 h-1.9 M65.3 901 h1.9 M494.8 901 h-1.9 M65.3 890.7 h1.9 M494.8 890.7 h-1.9 M65.3 880.4 h1.9 M494.8 880.4 h-1.9 M65.3 870.1 h1.9 M494.8 870.1 h-1.9 M65.3 859.8 h1.9 M494.8 859.8 h-1.9 M65.3 849.5 h1.9 M494.8 849.5 h-1.9 M65.3 839.2 h1.9 M494.8 839.2 h-1.9 M65.3 828.9 h1.9 M494.8 828.9 h-1.9 M65.3 818.6 h1.9 M494.8 818.6 h-1.9 M65.3 808.3 h1.9 M494.8 808.3 h-1.9 M65.3 798 h1.9 M494.8 798 h-1.9 M65.3 787.7 h1.9 M494.8 787.7 h-1.9 M65.3 777.4 h1.9 M494.8 777.4 h-1.9 M65.3 767.1 h1.9 M494.8 767.1 h-1.9 M65.3 756.8 h1.9 M494.8 756.8 h-1.9 M65.3 746.5 h1.9 M494.8 746.5 h-1.9 M65.3 736.2 h1.9 M494.8 736.2 h-1.9 M65.3 952.5 h3.5 M494.8 952.5 h-3.5 M65.3 911.3 h3.5 M494.8 911.3 h-3.5 M65.3 870.1 h3.5 M494.8 870.1 h-3.5 M65.3 828.9 h3.5 M494.8 828.9 h-3.5 M65.3 787.7 h3.5 M494.8 787.7 h-3.5 M65.3 746.5 h3.5 M494.8 746.5 h-3.5" stroke="#000" stroke-width="2.7" fill="none"/>
<text transform="translate(60.4 1001.3) scale(0.97 1)" text-anchor="end" font-size="26.1" font-weight="normal" fill="#000">0</text>
<text transform="translate(60.4 960.1) scale(0.97 1)" text-anchor="end" font-size="26.1" font-weight="normal" fill="#000">2</text>
<text transform="translate(60.4 918.9) scale(0.97 1)" text-anchor="end" font-size="26.1" font-weight="normal" fill="#000">4</text>
<text transform="translate(60.4 877.7) scale(0.97 1)" text-anchor="end" font-size="26.1" font-weight="normal" fill="#000">6</text>
<text transform="translate(60.4 836.5) scale(0.97 1)" text-anchor="end" font-size="26.1" font-weight="normal" fill="#000">8</text>
<text transform="translate(60.4 795.3) scale(0.97 1)" text-anchor="end" font-size="26.1" font-weight="normal" fill="#000">10</text>
<text transform="translate(60.4 754.1) scale(0.97 1)" text-anchor="end" font-size="26.1" font-weight="normal" fill="#000">12</text>
<text transform="translate(71.9 1020.9) scale(0.97 1)" text-anchor="middle" font-size="26.1" font-weight="normal" fill="#000">0</text>
<text transform="translate(127.3 1020.9) scale(0.97 1)" text-anchor="middle" font-size="26.1" font-weight="normal" fill="#000">2</text>
<text transform="translate(182.7 1020.9) scale(0.97 1)" text-anchor="middle" font-size="26.1" font-weight="normal" fill="#000">4</text>
<text transform="translate(238.1 1020.9) scale(0.97 1)" text-anchor="middle" font-size="26.1" font-weight="normal" fill="#000">6</text>
<text transform="translate(293.5 1020.9) scale(0.97 1)" text-anchor="middle" font-size="26.1" font-weight="normal" fill="#000">8</text>
<text transform="translate(349.7 1020.9) scale(0.97 1)" text-anchor="middle" font-size="26.1" font-weight="normal" fill="#000">10</text>
<text transform="translate(405.1 1020.9) scale(0.97 1)" text-anchor="middle" font-size="26.1" font-weight="normal" fill="#000">12</text>
<text transform="translate(460.5 1020.9) scale(0.97 1)" text-anchor="middle" font-size="26.1" font-weight="normal" fill="#000">14</text>
<text transform="translate(280 1044.2) scale(0.98 1)" text-anchor="middle" font-size="26.6" font-weight="normal" fill="#000">Donut pulse length (μs)</text>
<text transform="translate(26 859.5) rotate(-90) scale(0.97 1)" text-anchor="middle" font-size="26.6" font-weight="normal" fill="#000">FWHM (MHz)</text>
<text transform="translate(5.3 742.3) scale(1 1)" text-anchor="start" font-size="28.8" font-weight="bold" fill="#231f20">c)</text>
</svg>
</body></html>
